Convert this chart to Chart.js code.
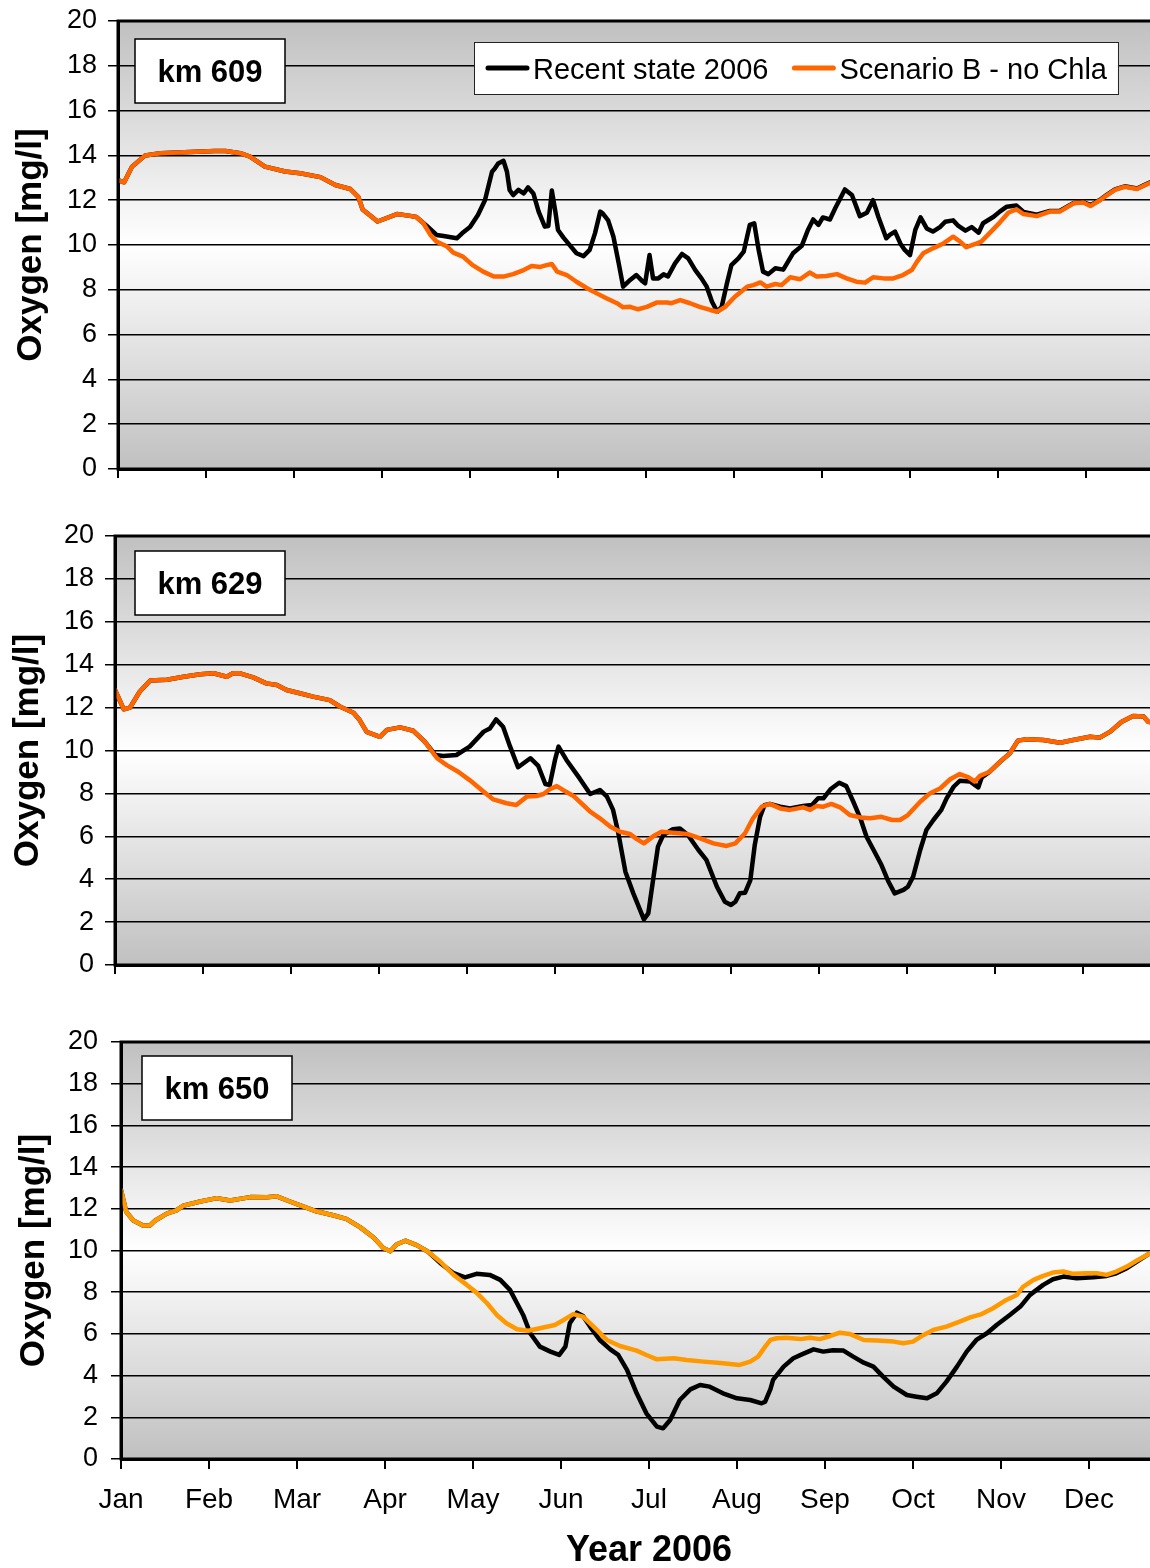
<!DOCTYPE html>
<html>
<head>
<meta charset="utf-8">
<title>Oxygen 2006 – km 609 / 629 / 650</title>
<script src="https://cdn.jsdelivr.net/npm/chart.js@4.4.1/dist/chart.umd.min.js"></script>
<style>
  html, body { margin: 0; padding: 0; background: #fff; overflow: hidden; width: 1150px; height: 1568px; }
  canvas { position: absolute; left: 0; }
</style>
</head>
<body>
<canvas id="c609" width="1180" height="490" style="top:0px;width:1180px;height:490px"></canvas>
<canvas id="c629" width="1180" height="470" style="top:515px;width:1180px;height:470px"></canvas>
<canvas id="c650" width="1180" height="560" style="top:1021px;width:1180px;height:560px"></canvas>
<script>
// x = month position (0 = start of Jan), y = dissolved oxygen in mg/l
const MONTHS = ['Jan', 'Feb', 'Mar', 'Apr', 'May', 'Jun', 'Jul', 'Aug', 'Sep', 'Oct', 'Nov', 'Dec'];
const SERIES_LABELS = ['Recent state 2006', 'Scenario B - no Chla'];
const STATIONS = ['km 609', 'km 629', 'km 650'];
const Y_TICKS = { min: 0, max: 20, step: 2 };

// ---- km 609 ----
const km609Common = [[0.00,12.9],[0.07,12.8],[0.16,13.5],[0.31,14.0],[0.48,14.1],[0.82,14.15],[1.10,14.2],[1.22,14.2],[1.39,14.1],[1.50,13.95],[1.67,13.5],[1.90,13.28],[2.07,13.2],[2.30,13.03],[2.47,12.68],[2.64,12.5],[2.73,12.15],[2.78,11.58],[2.95,11.05],[3.17,11.38],[3.32,11.3],[3.39,11.25]];
const km609Recent = [[3.51,10.85],[3.62,10.45],[3.70,10.4],[3.85,10.3],[3.91,10.52],[4.00,10.8],[4.09,11.34],[4.17,12.0],[4.25,13.27],[4.28,13.4],[4.32,13.64],[4.38,13.76],[4.42,13.27],[4.45,12.46],[4.49,12.23],[4.55,12.46],[4.61,12.3],[4.66,12.57],[4.72,12.3],[4.78,11.49],[4.85,10.82],[4.89,10.85],[4.93,12.43],[4.97,11.49],[5.00,10.67],[5.06,10.34],[5.14,9.96],[5.21,9.63],[5.29,9.5],[5.36,9.78],[5.42,10.52],[5.48,11.49],[5.51,11.4],[5.57,11.1],[5.63,10.37],[5.69,9.18],[5.74,8.14],[5.82,8.44],[5.89,8.66],[5.95,8.42],[5.99,8.29],[6.04,9.55],[6.08,8.51],[6.14,8.51],[6.20,8.69],[6.25,8.6],[6.33,9.18],[6.41,9.6],[6.48,9.4],[6.56,8.88],[6.63,8.51],[6.69,8.14],[6.75,7.47],[6.81,7.02],[6.86,7.24],[6.92,8.29],[6.97,9.1],[7.05,9.4],[7.11,9.7],[7.18,10.9],[7.23,10.97],[7.28,9.78],[7.33,8.81],[7.39,8.7],[7.47,8.96],[7.56,8.9],[7.67,9.63],[7.77,9.96],[7.84,10.67],[7.90,11.14],[7.96,10.9],[8.01,11.23],[8.09,11.14],[8.15,11.64],[8.26,12.48],[8.34,12.23],[8.43,11.29],[8.51,11.44],[8.58,12.0],[8.64,11.26],[8.73,10.3],[8.77,10.45],[8.83,10.6],[8.89,10.07],[8.94,9.78],[9.00,9.55],[9.06,10.67],[9.12,11.23],[9.19,10.74],[9.26,10.6],[9.34,10.8],[9.40,11.04],[9.49,11.1],[9.55,10.85],[9.63,10.64],[9.70,10.8],[9.78,10.55],[9.83,10.97],[9.95,11.26],[10.02,11.49],[10.10,11.71],[10.21,11.76],[10.29,11.48],[10.44,11.35],[10.59,11.52],[10.70,11.52],[10.86,11.88],[10.97,11.92],[11.05,11.78],[11.16,12.02],[11.24,12.25],[11.33,12.48],[11.44,12.62],[11.58,12.52],[11.65,12.65],[11.73,12.8],[11.80,12.87]];
const km609ScenB = [[3.47,10.97],[3.55,10.45],[3.62,10.15],[3.74,9.93],[3.81,9.66],[3.92,9.48],[4.03,9.1],[4.15,8.81],[4.27,8.59],[4.38,8.59],[4.49,8.7],[4.61,8.88],[4.70,9.06],[4.80,9.02],[4.87,9.1],[4.93,9.15],[4.99,8.81],[5.10,8.66],[5.21,8.36],[5.33,8.07],[5.44,7.84],[5.55,7.62],[5.67,7.4],[5.74,7.22],[5.82,7.24],[5.91,7.13],[6.01,7.24],[6.12,7.43],[6.24,7.43],[6.29,7.4],[6.39,7.54],[6.50,7.4],[6.61,7.24],[6.73,7.1],[6.81,7.02],[6.90,7.24],[7.01,7.69],[7.15,8.14],[7.22,8.21],[7.30,8.33],[7.37,8.14],[7.47,8.26],[7.54,8.21],[7.64,8.56],[7.75,8.47],[7.86,8.77],[7.94,8.59],[8.05,8.62],[8.17,8.7],[8.28,8.51],[8.39,8.36],[8.49,8.32],[8.58,8.56],[8.70,8.51],[8.81,8.51],[8.92,8.66],[9.02,8.88],[9.08,9.26],[9.15,9.63],[9.26,9.85],[9.38,10.07],[9.49,10.37],[9.57,10.15],[9.64,9.9],[9.76,10.07],[9.81,10.15],[9.91,10.55],[10.02,11.0],[10.12,11.45],[10.21,11.59],[10.29,11.38],[10.44,11.29],[10.59,11.49],[10.70,11.49],[10.86,11.86],[10.97,11.9],[11.05,11.74],[11.16,12.0],[11.24,12.23],[11.33,12.46],[11.44,12.6],[11.58,12.5],[11.65,12.63],[11.73,12.78],[11.80,12.85]];

// ---- km 629 ----
const km629Common = [[0.00,12.82],[0.10,11.92],[0.17,12.0],[0.28,12.74],[0.40,13.26],[0.59,13.3],[0.78,13.44],[0.97,13.55],[1.12,13.6],[1.27,13.44],[1.34,13.6],[1.42,13.6],[1.57,13.41],[1.72,13.13],[1.84,13.05],[1.95,12.82],[2.10,12.67],[2.25,12.51],[2.44,12.35],[2.56,12.04],[2.71,11.76],[2.78,11.42],[2.86,10.87],[3.01,10.64],[3.09,10.96],[3.24,11.08],[3.39,10.92],[3.52,10.41]];
const km629Recent = [[3.64,9.79],[3.73,9.74],[3.88,9.79],[4.03,10.18],[4.19,10.88],[4.26,11.03],[4.33,11.45],[4.41,11.11],[4.49,10.18],[4.58,9.22],[4.72,9.64],[4.81,9.28],[4.89,8.44],[4.94,8.39],[5.00,9.56],[5.04,10.18],[5.13,9.56],[5.28,8.7],[5.40,7.97],[5.51,8.16],[5.59,7.85],[5.66,7.23],[5.72,6.14],[5.80,4.35],[5.89,3.34],[6.01,2.13],[6.06,2.41],[6.12,4.12],[6.17,5.52],[6.23,6.06],[6.34,6.33],[6.42,6.36],[6.51,6.06],[6.63,5.36],[6.72,4.9],[6.84,3.65],[6.93,2.95],[7.00,2.8],[7.05,2.95],[7.10,3.34],[7.16,3.37],[7.22,3.96],[7.27,5.6],[7.33,6.9],[7.38,7.45],[7.44,7.51],[7.56,7.38],[7.67,7.3],[7.82,7.41],[7.92,7.46],[7.99,7.77],[8.05,7.77],[8.13,8.19],[8.23,8.5],[8.31,8.34],[8.39,7.61],[8.47,6.84],[8.54,5.98],[8.64,5.21],[8.71,4.66],[8.79,3.88],[8.86,3.34],[8.96,3.5],[9.01,3.65],[9.07,4.12],[9.15,5.36],[9.22,6.29],[9.30,6.76],[9.39,7.23],[9.45,7.77],[9.53,8.31],[9.60,8.59],[9.72,8.55],[9.77,8.4],[9.81,8.28],[9.85,8.75],[9.94,9.01],[10.06,9.48],[10.17,9.87],[10.26,10.46]];
const km629ScenB = [[3.66,9.64],[3.77,9.32],[3.90,9.01],[4.03,8.62],[4.19,8.08],[4.30,7.72],[4.45,7.54],[4.56,7.46],[4.68,7.85],[4.79,7.88],[4.87,7.97],[4.94,8.19],[5.02,8.34],[5.09,8.16],[5.21,7.88],[5.32,7.46],[5.40,7.15],[5.51,6.84],[5.63,6.45],[5.74,6.21],[5.85,6.11],[5.93,5.87],[6.01,5.67],[6.12,6.01],[6.21,6.21],[6.34,6.17],[6.50,6.11],[6.65,5.9],[6.80,5.67],[6.95,5.55],[7.05,5.67],[7.16,6.14],[7.25,6.84],[7.35,7.38],[7.44,7.51],[7.56,7.3],[7.67,7.23],[7.82,7.35],[7.90,7.23],[7.97,7.41],[8.05,7.38],[8.14,7.51],[8.24,7.35],[8.35,6.99],[8.47,6.88],[8.58,6.84],[8.71,6.91],[8.83,6.76],[8.92,6.76],[9.01,6.99],[9.15,7.61],[9.26,8.0],[9.38,8.24],[9.49,8.66],[9.60,8.9],[9.70,8.75],[9.77,8.55],[9.83,8.82],[9.94,9.01],[10.06,9.48],[10.17,9.87],[10.26,10.46]];
const km629Late = [[10.36,10.52],[10.55,10.49],[10.74,10.36],[10.89,10.49],[11.08,10.64],[11.19,10.6],[11.31,10.88],[11.44,11.34],[11.57,11.61],[11.69,11.58],[11.74,11.34],[11.80,11.3]];

// ---- km 650 ----
const km650Common = [[0.00,12.9],[0.06,11.85],[0.14,11.44],[0.25,11.2],[0.33,11.2],[0.39,11.44],[0.52,11.77],[0.63,11.93],[0.71,12.15],[0.90,12.35],[1.09,12.51],[1.24,12.4],[1.47,12.56],[1.66,12.55],[1.77,12.6],[1.92,12.35],[2.03,12.18],[2.22,11.88],[2.41,11.69],[2.56,11.52],[2.72,11.11],[2.87,10.62],[2.98,10.12],[3.06,9.96],[3.13,10.29],[3.23,10.47],[3.36,10.26],[3.49,9.94]];
const km650Recent = [[3.63,9.39],[3.78,8.91],[3.91,8.71],[4.04,8.88],[4.19,8.83],[4.31,8.59],[4.42,8.11],[4.50,7.47],[4.57,6.91],[4.65,6.03],[4.76,5.39],[4.88,5.15],[4.98,4.99],[5.05,5.39],[5.10,6.51],[5.18,7.02],[5.25,6.86],[5.33,6.35],[5.44,5.71],[5.56,5.26],[5.65,4.99],[5.75,4.27],[5.86,3.15],[5.97,2.19],[6.09,1.55],[6.16,1.47],[6.24,1.87],[6.35,2.83],[6.47,3.34],[6.58,3.55],[6.69,3.47],[6.84,3.15],[7.00,2.91],[7.15,2.83],[7.28,2.67],[7.32,2.75],[7.38,3.35],[7.41,3.79],[7.53,4.43],[7.64,4.83],[7.75,5.04],[7.87,5.26],[7.98,5.15],[8.09,5.22],[8.21,5.2],[8.32,4.91],[8.44,4.62],[8.55,4.43],[8.66,3.95],[8.78,3.47],[8.93,3.07],[9.04,2.99],[9.16,2.91],[9.27,3.15],[9.38,3.71],[9.50,4.43],[9.61,5.15],[9.72,5.71],[9.84,6.03],[9.95,6.43],[10.10,6.91],[10.22,7.31],[10.33,7.87],[10.48,8.35],[10.59,8.62],[10.71,8.75],[10.86,8.67],[11.05,8.72],[11.20,8.78],[11.31,8.91],[11.43,9.15],[11.54,9.46],[11.69,9.86],[11.80,10.05]];
const km650ScenB = [[3.63,9.46],[3.78,8.83],[3.93,8.35],[4.04,7.98],[4.16,7.47],[4.27,6.91],[4.38,6.51],[4.50,6.22],[4.63,6.15],[4.76,6.27],[4.93,6.43],[5.03,6.67],[5.14,6.95],[5.25,6.83],[5.37,6.35],[5.52,5.71],[5.67,5.42],[5.86,5.2],[5.97,4.99],[6.09,4.78],[6.28,4.83],[6.43,4.75],[6.62,4.67],[6.81,4.6],[7.03,4.51],[7.15,4.67],[7.24,4.91],[7.32,5.39],[7.38,5.71],[7.45,5.79],[7.56,5.82],[7.72,5.75],[7.83,5.82],[7.94,5.75],[8.06,5.9],[8.17,6.06],[8.28,6.0],[8.44,5.71],[8.59,5.68],[8.78,5.63],[8.89,5.55],[9.00,5.63],[9.12,5.95],[9.23,6.19],[9.38,6.35],[9.53,6.59],[9.65,6.79],[9.78,6.95],[9.91,7.23],[10.06,7.63],[10.18,7.87],[10.25,8.26],[10.37,8.59],[10.48,8.78],[10.59,8.94],[10.71,8.99],[10.82,8.88],[10.97,8.91],[11.09,8.91],[11.20,8.83],[11.31,8.99],[11.43,9.23],[11.54,9.51],[11.69,9.86],[11.80,10.05]];

const FONT = '"Liberation Sans", Arial, Helvetica, sans-serif';
const toXY = arr => arr.map(([x, y]) => ({ x, y }));

// Plot background gradient, frame, station label and in-plot legend
const plotDecor = {
  id: 'plotDecor',
  beforeDraw(chart) {
    const { ctx, chartArea: a } = chart;
    const g = ctx.createLinearGradient(0, a.top, 0, a.bottom);
    g.addColorStop(0, '#c0c0c0');
    g.addColorStop(0.5, '#ffffff');
    g.addColorStop(1, '#c0c0c0');
    ctx.save();
    ctx.fillStyle = g;
    ctx.fillRect(a.left, a.top, a.right - a.left, a.bottom - a.top);
    ctx.restore();
  },
  afterDraw(chart, args, opts) {
    const { ctx, chartArea: a } = chart;
    ctx.save();
    ctx.strokeStyle = '#000';
    ctx.lineWidth = 3;
    ctx.strokeRect(a.left, a.top, a.right - a.left, a.bottom - a.top);

    // station label
    const b = opts.box;
    const bx = a.left + b.dx, by = a.top + b.dy;
    ctx.fillStyle = '#fff';
    ctx.fillRect(bx, by, b.w, b.h);
    ctx.lineWidth = 1.5;
    ctx.strokeStyle = '#000';
    ctx.strokeRect(bx, by, b.w, b.h);
    ctx.fillStyle = '#000';
    ctx.font = 'bold 31px ' + FONT;
    ctx.textAlign = 'center';
    ctx.textBaseline = 'alphabetic';
    ctx.fillText(opts.station, bx + b.w / 2, by + b.h / 2 + 10.5);

    // legend
    if (opts.legend) {
      const L = opts.legend;
      const ds = chart.data.datasets;
      ctx.font = '29px ' + FONT;
      const padL = 14, sample = 39, gap = 6, between = 26, padR = 11;
      const widths = ds.map(d => ctx.measureText(d.label).width);
      const w = padL + widths.reduce((s, tw) => s + sample + gap + tw, 0) + between * (ds.length - 1) + padR;
      const lx = a.left + L.dx, ly = a.top + L.dy;
      ctx.fillStyle = '#fff';
      ctx.fillRect(lx, ly, w, L.h);
      ctx.lineWidth = 1;
      ctx.strokeStyle = '#222';
      ctx.strokeRect(lx + 0.5, ly + 0.5, w, L.h);
      let cx = lx + padL;
      const midY = ly + L.h / 2;
      ds.forEach((d, i) => {
        ctx.strokeStyle = d.borderColor;
        ctx.lineWidth = 5;
        ctx.lineCap = 'round';
        ctx.beginPath();
        ctx.moveTo(cx, midY);
        ctx.lineTo(cx + sample, midY);
        ctx.stroke();
        cx += sample + gap;
        ctx.fillStyle = '#000';
        ctx.textAlign = 'left';
        ctx.textBaseline = 'alphabetic';
        ctx.fillText(d.label, cx, ly + 36.5);
        cx += widths[i] + between;
      });
    }
    ctx.restore();
  }
};

function makePanel(id, cfg) {
  return new Chart(document.getElementById(id), {
    type: 'line',
    data: {
      datasets: [
        { label: SERIES_LABELS[0], data: toXY(cfg.recent), borderColor: '#000000', borderWidth: 4.5, order: 1 },
        { label: SERIES_LABELS[1], data: toXY(cfg.scenario), borderColor: cfg.orange, borderWidth: 4.5, order: 0 }
      ]
    },
    options: {
      responsive: false,
      animation: false,
      devicePixelRatio: 1,
      layout: { padding: { top: 21, right: cfg.padRight, bottom: 0, left: 0 } },
      elements: {
        point: { radius: 0, hoverRadius: 0 },
        line: { tension: 0, borderJoinStyle: 'round', borderCapStyle: 'round' }
      },
      plugins: {
        legend: { display: false },
        tooltip: { enabled: false },
        plotDecor: { station: cfg.station, box: cfg.box, legend: cfg.legend }
      },
      scales: {
        x: {
          type: 'linear',
          min: 0,
          max: 12,
          // fixed axis band; label overhang must not shrink the plot
          afterFit: s => { s.height = cfg.xHeight; s.paddingLeft = 0; s.paddingRight = 0; },
          ticks: {
            stepSize: 1,
            autoSkip: false,
            maxRotation: 0,
            display: cfg.showMonths,
            padding: 14,
            color: '#000',
            font: { family: FONT, size: 28 },
            callback: v => (Number.isInteger(v) && MONTHS[v]) ? MONTHS[v] : ''
          },
          grid: { drawOnChartArea: false, drawTicks: true, tickLength: cfg.xTick, color: '#000', lineWidth: 2 },
          border: { display: true, color: '#000', width: 3 },
          title: {
            display: cfg.showMonths,
            text: 'Year 2006',
            color: '#000',
            font: { family: FONT, size: 36, weight: 'bold' },
            padding: { top: 0, bottom: 8 }
          }
        },
        y: {
          min: Y_TICKS.min,
          max: Y_TICKS.max,
          afterFit: s => { s.width = cfg.left; s.paddingTop = 0; s.paddingBottom = 0; },
          ticks: {
            stepSize: Y_TICKS.step,
            padding: cfg.yPad,
            color: '#000',
            font: { family: FONT, size: 27 }
          },
          grid: { color: '#000', lineWidth: 1.5, drawTicks: true, tickLength: 10 },
          border: { display: true, color: '#000', width: 3 },
          title: {
            display: true,
            text: 'Oxygen [mg/l]',
            color: '#000',
            font: { family: FONT, size: 35, weight: 'bold' },
            padding: { top: cfg.titlePad, bottom: 0 }
          }
        }
      }
    },
    plugins: [plotDecor]
  });
}

makePanel('c609', {
  station: STATIONS[0],
  recent: km609Common.concat(km609Recent),
  scenario: km609Common.concat(km609ScenB),
  orange: '#ff6600',
  left: 118, padRight: 6, xHeight: 21, xTick: 9, yPad: 11, titlePad: 10,
  showMonths: false,
  box: { dx: 17, dy: 18, w: 150, h: 64 },
  legend: { dx: 356, dy: 21, h: 52 }
});

makePanel('c629', {
  station: STATIONS[1],
  recent: km629Common.concat(km629Recent, km629Late),
  scenario: km629Common.concat(km629ScenB, km629Late),
  orange: '#ff6600',
  left: 115, padRight: 9, xHeight: 20, xTick: 9, yPad: 11, titlePad: 7,
  showMonths: false,
  box: { dx: 20, dy: 15, w: 150, h: 64 }
});

makePanel('c650', {
  station: STATIONS[2],
  recent: km650Common.concat(km650Recent),
  scenario: km650Common.concat(km650ScenB),
  orange: '#ff9900',
  left: 121, padRight: 3, xHeight: 122, xTick: 10, yPad: 13, titlePad: 13,
  showMonths: true,
  box: { dx: 21, dy: 14, w: 150, h: 64 }
});
</script>
</body>
</html>
